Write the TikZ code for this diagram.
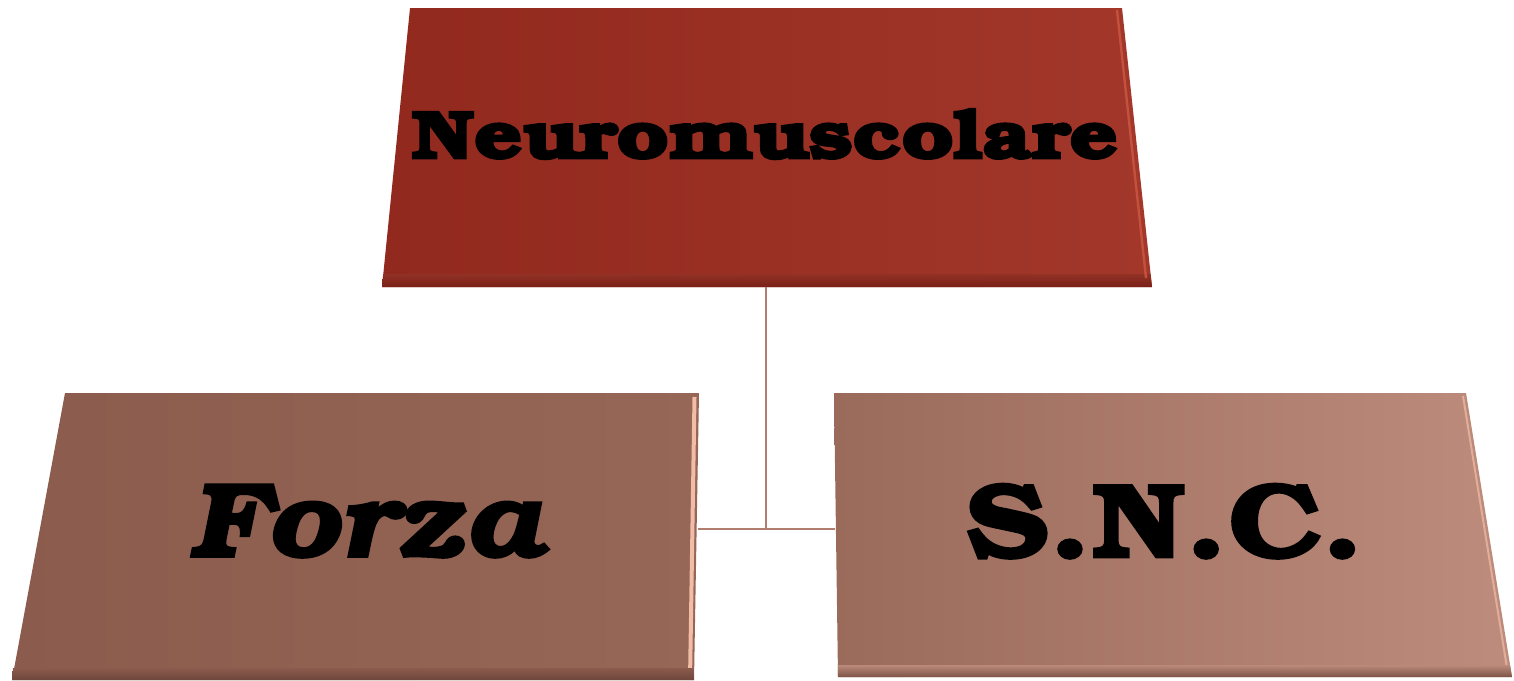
\documentclass[tikz,border=0pt]{standalone}
\usepackage[T1,TU]{fontenc}
\usepackage{graphicx}
\usetikzlibrary{calc}
\definecolor{topL}{HTML}{92291E}
\definecolor{topR}{HTML}{A2372A}
\definecolor{topDark}{HTML}{7A2017}
\definecolor{topHi}{HTML}{C4503E}
\definecolor{lbL}{HTML}{8B5B4D}
\definecolor{lbR}{HTML}{966656}
\definecolor{rbL}{HTML}{9A6A5B}
\definecolor{rbR}{HTML}{BD8C7C}
\definecolor{bDark}{HTML}{6E463B}
\definecolor{bHi}{HTML}{F2BDA6}
\definecolor{conn}{HTML}{B27C6E}
\newcommand{\heavyfont}{\fontencoding{T1}\fontfamily{pbk}\fontseries{b}\selectfont}
\newcommand{\strokeon}{\special{pdf:literal 2 Tr 1.1 w}}
\newcommand{\strokeoff}{\special{pdf:literal 0 Tr}}
\tikzset{
  lbl/.style={text=black, inner sep=0pt, anchor=center},
  connector/.style={draw=conn, line width=1.1pt},
}
\begin{document}
\begin{tikzpicture}[x=0.5pt,y=-0.5pt]
\useasboundingbox (0,0) rectangle (1514,680);
% ---- top box ----
\coordinate (t1) at (410,8);
\coordinate (t2) at (1122,8);
\coordinate (t3) at (1152,287);
\coordinate (t4) at (382,287);
\shade[left color=topL, right color=topR] (t1) -- (t2) -- (t3) -- (t4) -- cycle;
\shade[top color=topR!90!black, bottom color=topDark] (383.2,274) -- (1150.6,274) -- (t3) -- (t4) -- cycle;
\draw[topHi, line width=1.2pt] (1117,10) -- (1146,278);
% ---- left bottom box ----
\coordinate (l1) at (65,393);
\coordinate (l2) at (699,393);
\coordinate (l3) at (694,680);
\coordinate (l4) at (12,680);
\shade[left color=lbL, right color=lbR] (l1) -- (l2) -- (l3) -- (l4) -- cycle;
\draw[bHi, line width=2pt] (694.5,397) -- (690,680);
\shade[top color=lbL, bottom color=bDark] (13,668) -- (693.5,668) -- (l3) -- (l4) -- cycle;
% ---- right bottom box ----
\coordinate (r1) at (834,393);
\coordinate (r2) at (1466,393);
\coordinate (r3) at (1512,677);
\coordinate (r4) at (838,677);
\shade[left color=rbL, right color=rbR] (r1) -- (r2) -- (r3) -- (r4) -- cycle;
\draw[bHi!70!rbR, line width=1pt] (1463,396) -- (1507,668);
\shade[top color=rbR!95!rbL, bottom color=bDark!80!rbR] (837.8,665) -- (1510,665) -- (r3) -- (r4) -- cycle;
% ---- connectors ----
\coordinate (tb) at (766,287);
\coordinate (jn) at (766,529);
\coordinate (lr) at (698,529);
\coordinate (rl) at (835,529);
\draw[connector] (tb) -- (jn);
\draw[connector] (lr) -- (rl);
% ---- labels ----
\node[lbl] (ttxt) at (765,134) {\scalebox{1.24}[1]{\heavyfont\fontsize{34}{38}\selectfont\strokeon Neuromuscolare\strokeoff}};
\node[lbl] (ltxt) at (366,521) {\scalebox{1.11}[1]{\heavyfont\fontshape{it}\fontsize{53}{58}\selectfont\strokeon Forza\strokeoff}};
\node[lbl] (rtxt) at (1165,521) {\scalebox{1.19}[1]{\heavyfont\fontsize{53}{58}\selectfont\strokeon S.N.C.\strokeoff}};
\end{tikzpicture}
\end{document}
